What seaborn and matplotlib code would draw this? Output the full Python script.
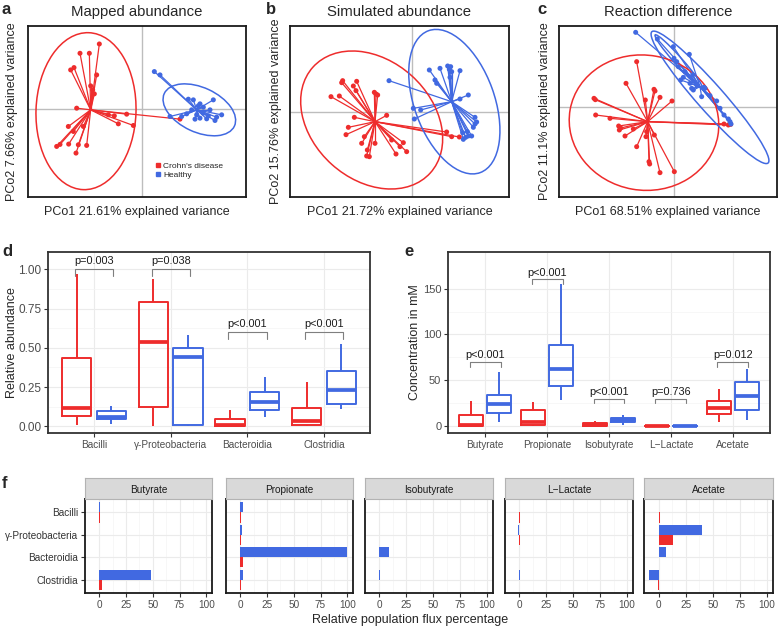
import numpy as np
import pandas as pd
import matplotlib
matplotlib.use("Agg")
import matplotlib.pyplot as plt
from matplotlib.patches import Ellipse
from matplotlib.lines import Line2D
from matplotlib.ticker import FixedLocator
import seaborn as sns

# ====================== DATA ======================
groups = ["Crohn's disease", "Healthy"]
group_colors = ["#EE2C2C", "#4169E1"]

# ---- panel a : Mapped abundance ----
a_title = "Mapped abundance"
a_xlabel = "PCo1 21.61% explained variance"
a_ylabel = "PCo2 7.66% explained variance"
a_crohn_pco1 = [-1.27, -1.85, -1.57, -2.13, -2.03, -1.35, -1.53, -1.42, -1.47, -1.95, -0.45, -0.82, -0.70,
                -0.25, 1.15, -2.20, -2.05, -2.55, -2.45, -2.19, -1.90, -1.65, -1.97, -1.75, -1.00]
a_crohn_pco2 = [1.94, 1.66, 1.66, 1.16, 1.23, 1.01, 0.68, 0.44, 0.56, 0.01, -0.17, -0.22, -0.46,
                -0.51, -0.32, -0.54, -0.69, -1.14, -1.08, -1.07, -1.09, -1.11, -1.34, -0.54, -0.19]
a_crohn_centroid = [-1.53, -0.04]
a_healthy_pco1 = [0.38, 0.55, 0.85, 1.40, 1.55, 1.75, 2.15, 1.50, 1.65, 1.85, 2.00, 2.25, 2.40, 2.20,
                  1.95, 1.75, 1.60, 1.35, 2.05, 1.85, 1.70, 1.20]
a_healthy_pco2 = [1.11, 1.01, -0.24, 0.28, 0.26, 0.14, 0.26, -0.04, -0.19, -0.14, -0.22, -0.26, -0.19, -0.36,
                  -0.31, -0.29, -0.32, -0.16, -0.04, 0.04, 0.08, -0.24]
a_healthy_centroid = [1.65, -0.04]
# ellipse: group index, centre x, centre y, width, height, angle
a_ellipses = [(0, -1.67, -0.08, 3.00, 4.72, -2), (1, 1.73, -0.04, 2.32, 1.34, -25)]

# ---- panel b : Simulated abundance ----
b_title = "Simulated abundance"
b_xlabel = "PCo1 21.72% explained variance"
b_ylabel = "PCo2 15.76% explained variance"
b_crohn_pco1 = [-2.09, -2.12, -1.67, -1.77, -1.69, -2.44, -2.19, -1.14, -1.09, -1.04, -1.74, -1.92, -1.99,
                -0.77, -1.12, -1.44, -1.52, -1.35, -1.37, -1.29, -0.49, -0.17, -0.27, -0.37, 1.03, 1.18,
                1.41, -0.62]
b_crohn_pco2 = [0.95, 0.89, 0.93, 0.79, 0.65, 0.47, 0.49, 0.60, 0.55, 0.52, -0.15, -0.45, -0.67,
                -0.09, -0.93, -0.73, -0.93, -1.13, -1.31, -1.33, -1.25, -1.18, -0.91, -1.03, -0.59, -0.73,
                -0.74, -0.83]
b_crohn_centroid = [-1.12, -0.28]
b_healthy_pco1 = [-0.70, 0.51, 0.83, 1.06, 1.15, 1.11, 1.18, 1.43, 0.68, 0.73, 1.13, 1.68, 1.43, 0.03,
                  0.25, 0.06, 1.88, 1.93, 1.83, 1.88, 1.53, 1.60, 1.68, 1.78, 1.51, 1.65]
b_healthy_pco2 = [0.95, 1.27, 1.32, 1.39, 1.37, 1.29, 1.22, 1.25, 0.97, 0.87, 1.05, 0.52, 0.40, 0.12,
                  0.07, -0.20, -0.15, -0.29, -0.45, -0.35, -0.81, -0.75, -0.71, -0.71, -0.61, -0.58]
b_healthy_centroid = [1.18, 0.32]
b_ellipses = [(0, -1.22, -0.23, 4.74, 3.58, -42), (1, 1.26, 0.32, 4.53, 2.40, -70)]

# ---- panel c : Reaction difference ----
c_title = "Reaction difference"
c_xlabel = "PCo1 68.51% explained variance"
c_ylabel = "PCo2 11.1% explained variance"
c_crohn_pco1 = [-1.13, -1.45, -0.61, -0.58, -0.87, -0.43, -0.07, -2.41, -2.37, -2.36, -1.93, -1.67, -1.65,
                -1.61, -1.48, -1.23, -1.13, -0.85, -0.60, -0.76, -0.74, -0.43, 0.00, 1.49, 1.62, 1.69, -0.83]
c_crohn_pco2 = [1.35, 0.70, 0.52, 0.47, 0.20, 0.28, 0.17, 0.25, 0.21, -0.25, -0.35, -0.58, -0.70,
                -0.64, -0.88, -0.67, -1.20, -0.90, -0.85, -1.65, -1.72, -1.98, -1.95, -0.52, -0.55, -0.53, -0.75]
c_crohn_centroid = [-0.80, -0.45]
c_healthy_pco1 = [-1.16, -0.03, 0.45, -0.01, 0.07, 0.12, 0.19, 0.27, 0.47, 0.67, 0.89, 0.82, 1.07, 1.27,
                  1.37, 1.49, 1.62, 1.67, 1.70, 0.52, 0.57, 0.92, 0.32, 0.55, -0.51]
c_healthy_pco2 = [2.23, 1.80, 1.57, 1.45, 1.35, 1.20, 0.80, 0.88, 0.70, 0.65, 0.58, 0.30, 0.33, 0.17,
                  -0.05, -0.25, -0.37, -0.45, -0.52, 0.55, 0.50, 0.55, 1.05, 0.95, 2.03]
c_healthy_centroid = [0.77, 0.60]
c_ellipses = [(0, -0.91, -0.48, 4.50, 4.05, -10), (1, 1.07, 0.28, 5.26, 0.80, -48.5),
              (1, 0.13, 1.36, 2.12, 0.24, -48.4)]

# ---- panel d : relative abundance boxplots (min, q1, median, q3, max) ----
d_categories = ["Bacilli", "γ-Proteobacteria", "Bacteroidia", "Clostridia"]
d_crohn_stats = [[0.010, 0.068, 0.116, 0.433, 0.970],
                 [0.000, 0.123, 0.535, 0.789, 0.940],
                 [0.000, 0.002, 0.010, 0.044, 0.106],
                 [0.000, 0.006, 0.036, 0.116, 0.280]]
d_healthy_stats = [[0.015, 0.049, 0.060, 0.095, 0.127],
                   [0.000, 0.008, 0.444, 0.497, 0.580],
                   [0.061, 0.106, 0.154, 0.220, 0.313],
                   [0.110, 0.144, 0.233, 0.355, 0.524]]
d_pvalues = ["p=0.003", "p=0.038", "p<0.001", "p<0.001"]
d_bracket_y = [1.0, 1.0, 0.603, 0.603]
d_ylabel = "Relative abundance"

# ---- panel e : SCFA concentration boxplots (min, q1, median, q3, max) ----
e_categories = ["Butyrate", "Propionate", "Isobutyrate", "L\u2212Lactate", "Acetate"]
e_crohn_stats = [[0.0, 0.3, 1.5, 12.0, 27.9],
                 [0.0, 0.7, 4.3, 17.4, 26.0],
                 [0.0, 0.0, 0.7, 2.9, 5.4],
                 [0.0, 0.0, 0.2, 0.6, 1.0],
                 [4.7, 13.4, 19.9, 27.2, 40.6]]
e_healthy_stats = [[4.3, 14.5, 24.6, 33.7, 59.0],
                   [29.0, 43.5, 62.3, 88.8, 154.7],
                   [1.0, 4.3, 6.5, 9.0, 12.0],
                   [0.0, 0.0, 0.2, 0.6, 1.0],
                   [6.2, 17.4, 33.3, 48.2, 62.3]]
e_pvalues = ["p<0.001", "p<0.001", "p<0.001", "p=0.736", "p=0.012"]
e_bracket_y = [70, 160, 30, 30, 70]
e_ylabel = "Concentration in mM"

# ---- panel f : relative population flux percentage ----
f_metabolites = ["Butyrate", "Propionate", "Isobutyrate", "L\u2212Lactate", "Acetate"]
f_taxa = ["Bacilli", "γ-Proteobacteria", "Bacteroidia", "Clostridia"]
f_butyrate_healthy = [0.4, 0.0, 0.0, 48.0]
f_butyrate_crohn = [0.3, 0.0, 0.0, 2.5]
f_propionate_healthy = [2.2, 1.6, 100.0, 2.2]
f_propionate_crohn = [0.5, 0.3, 2.5, 0.5]
f_isobutyrate_healthy = [0.0, 0.0, 8.6, 0.5]
f_isobutyrate_crohn = [0.0, 0.0, 0.0, 0.0]
f_lactate_healthy = [0.0, -1.5, 0.0, 0.5]
f_lactate_crohn = [0.3, 0.6, 0.0, 0.0]
f_acetate_healthy = [0.8, 39.9, 6.5, -8.4]
f_acetate_crohn = [1.2, 13.1, 0.0, -0.5]
f_xlabel = "Relative population flux percentage"

# ====================== STYLE ======================
sns.set_theme(style="white")
plt.rcParams["font.family"] = ["Liberation Sans", "DejaVu Sans"]
palette = dict(zip(groups, group_colors))
W, H = 780, 628
fig = plt.figure(figsize=(W / 100, H / 100), dpi=100)


def add_ax(x0, y0, x1, y1):
    return fig.add_axes([x0 / W, 1 - y1 / H, (x1 - x0) / W, (y1 - y0) / H])


def ftext(x, y, s, **kw):
    return fig.text(x / W, 1 - y / H, s, **kw)


def frame(ax, color="#1A1A1A", lw=1.3):
    for sp in ax.spines.values():
        sp.set_visible(True)
        sp.set_color(color)
        sp.set_linewidth(lw)


# ====================== PANELS a-c ======================
def pcoa_panel(box, title, xl, yl, cx, cy, cc, hx, hy, hc, ells, xlim, ylim, ylab_x):
    x0, y0, x1, y1 = box
    ax = add_ax(*box)
    ax.axhline(0, color="#BDBDBD", lw=1.0, zorder=0)
    ax.axvline(0, color="#BDBDBD", lw=1.0, zorder=0)
    for xs, ys, c, col in [(cx, cy, cc, group_colors[0]), (hx, hy, hc, group_colors[1])]:
        for x, y in zip(xs, ys):
            ax.plot([c[0], x], [c[1], y], color=col, lw=0.9, zorder=2)
    df = pd.DataFrame({"PCo1": list(cx) + list(hx), "PCo2": list(cy) + list(hy),
                       "group": [groups[0]] * len(cx) + [groups[1]] * len(hx)})
    sns.scatterplot(data=df, x="PCo1", y="PCo2", hue="group", palette=palette, s=13,
                    linewidth=0, legend=False, ax=ax, zorder=3)
    for g, ex, ey, w, h, ang in ells:
        ax.add_patch(Ellipse((ex, ey), w, h, angle=ang, fill=False,
                             edgecolor=group_colors[g], lw=1.1, zorder=2))
    ax.set_xlim(xlim)
    ax.set_ylim(ylim)
    ax.set_xticks([])
    ax.set_yticks([])
    ax.set_xlabel("")
    ax.set_ylabel("")
    frame(ax)
    ftext((x0 + x1) / 2, 12, title, ha="center", va="center", fontsize=10.7)
    ftext((x0 + x1) / 2, 212, xl, ha="center", va="center", fontsize=9)
    ftext(ylab_x, (y0 + y1) / 2, yl, ha="center", va="center", rotation=90, fontsize=9)
    return ax


ax_a = pcoa_panel((28, 26, 246, 197), a_title, a_xlabel, a_ylabel,
                  a_crohn_pco1, a_crohn_pco2, a_crohn_centroid,
                  a_healthy_pco1, a_healthy_pco2, a_healthy_centroid,
                  a_ellipses, (-3.41, 3.13), (-2.66, 2.48), 12)
handles = [Line2D([], [], marker="s", ls="", color=c, markersize=3.5) for c in group_colors]
ax_a.legend(handles, groups, loc="center left", bbox_to_anchor=(0.56, 0.155), frameon=False,
            fontsize=6, handletextpad=0.1, labelspacing=0.05, borderpad=0, handlelength=1.0)

pcoa_panel((290, 26, 509, 197), b_title, b_xlabel, b_ylabel,
           b_crohn_pco1, b_crohn_pco2, b_crohn_centroid,
           b_healthy_pco1, b_healthy_pco2, b_healthy_centroid,
           b_ellipses, (-3.67, 2.90), (-2.54, 2.59), 276)

pcoa_panel((559, 26, 777, 197), c_title, c_xlabel, c_ylabel,
           c_crohn_pco1, c_crohn_pco2, c_crohn_centroid,
           c_healthy_pco1, c_healthy_pco2, c_healthy_centroid,
           c_ellipses, (-3.46, 3.08), (-2.71, 2.42), 545)

# ====================== PANELS d-e ======================
def long_box(cats, crohn, healthy):
    rows = []
    for cat, cs, hs in zip(cats, crohn, healthy):
        for v in cs:
            rows.append((cat, groups[0], v))
        for v in hs:
            rows.append((cat, groups[1], v))
    return pd.DataFrame(rows, columns=["cat", "group", "value"])


def box_panel(box, cats, crohn, healthy, pvals, by, drop, toff, yticks, ylabels, ylim, ylab, ylab_x,
              ytick_fs):
    x0, y0, x1, y1 = box
    ax = add_ax(*box)
    df = long_box(cats, crohn, healthy)
    sns.boxplot(data=df, x="cat", y="value", hue="group", hue_order=groups, palette=palette,
                order=cats, fill=False, whis=(0, 100), showfliers=False, showcaps=False,
                width=0.9, gap=0.15, linewidth=1.4, medianprops={"linewidth": 2.7},
                saturation=1, legend=False, ax=ax)
    ax.set_xlim(-0.6, len(cats) - 0.4)
    ax.set_ylim(ylim)
    ax.yaxis.set_major_locator(FixedLocator(yticks))
    ax.set_yticklabels(ylabels)
    minor = [(a + b) / 2 for a, b in zip(yticks[:-1], yticks[1:])]
    ax.yaxis.set_minor_locator(FixedLocator(minor))
    ax.set_axisbelow(True)
    ax.grid(True, which="major", color="#EBEBEB", lw=0.8)
    ax.grid(True, which="minor", axis="y", color="#F4F4F4", lw=0.5)
    ax.tick_params(axis="both", which="major", length=2.8, width=0.8, color="#333333",
                   labelcolor="#4D4D4D", pad=2, bottom=True, left=True)
    ax.tick_params(axis="y", labelsize=ytick_fs)
    ax.tick_params(axis="x", labelsize=7.2)
    ax.tick_params(which="minor", length=0)
    ax.set_xlabel("")
    ax.set_ylabel("")
    frame(ax, color="#333333", lw=1.3)
    for i, (p, y) in enumerate(zip(pvals, by)):
        ax.plot([i - 0.25, i - 0.25, i + 0.25, i + 0.25], [y - drop, y, y, y - drop],
                color="#7F7F7F", lw=0.8)
        ax.text(i, y + toff, p, ha="center", va="center", fontsize=7.8, color="#1A1A1A")
    ftext(ylab_x, (y0 + y1) / 2, ylab, ha="center", va="center", rotation=90, fontsize=9)
    return ax


box_panel((48, 252, 370, 433), d_categories, d_crohn_stats, d_healthy_stats, d_pvalues,
          d_bracket_y, 0.045, 0.05, [0, 0.25, 0.5, 0.75, 1.0],
          ["0.00", "0.25", "0.50", "0.75", "1.00"], (-0.043, 1.11), d_ylabel, 12, 8.5)
box_panel((448, 252, 770, 433), e_categories, e_crohn_stats, e_healthy_stats, e_pvalues,
          e_bracket_y, 5, 7.3, [0, 50, 100, 150], ["0", "50", "100", "150"], (-7.5, 190),
          e_ylabel, 415, 8)

# ====================== PANEL f ======================
f_healthy = [f_butyrate_healthy, f_propionate_healthy, f_isobutyrate_healthy, f_lactate_healthy,
             f_acetate_healthy]
f_crohn = [f_butyrate_crohn, f_propionate_crohn, f_isobutyrate_crohn, f_lactate_crohn, f_acetate_crohn]
facet_x = [(85, 212), (226, 353), (365, 493), (505, 633), (644, 773)]
for k, (met, hv, cv) in enumerate(zip(f_metabolites, f_healthy, f_crohn)):
    fx0, fx1 = facet_x[k]
    ax = add_ax(fx0, 499, fx1, 593)
    rows = [(t, groups[1], v) for t, v in zip(f_taxa, hv)] + [(t, groups[0], v) for t, v in zip(f_taxa, cv)]
    df = pd.DataFrame(rows, columns=["taxon", "group", "flux"])
    sns.barplot(data=df, x="flux", y="taxon", hue="group", order=f_taxa,
                hue_order=[groups[1], groups[0]], palette=palette, orient="h", width=0.9,
                errorbar=None, legend=False, linewidth=0, saturation=1, ax=ax)
    ax.set_xlim(-13.4, 105.4)
    ax.set_ylim(3.6, -0.6)
    ax.xaxis.set_major_locator(FixedLocator([0, 25, 50, 75, 100]))
    ax.xaxis.set_minor_locator(FixedLocator([12.5, 37.5, 62.5, 87.5]))
    ax.set_axisbelow(True)
    ax.grid(True, which="major", color="#EBEBEB", lw=0.8)
    ax.grid(True, which="minor", axis="x", color="#F4F4F4", lw=0.5)
    ax.tick_params(axis="x", which="major", length=2.8, width=0.8, color="#333333",
                   labelcolor="#4D4D4D", labelsize=7.2, pad=2, bottom=True)
    ax.tick_params(which="minor", length=0)
    if k == 0:
        ax.tick_params(axis="y", length=2.8, width=0.8, color="#333333", labelcolor="#333333",
                       labelsize=7.2, pad=2, left=True)
    else:
        ax.tick_params(axis="y", left=False, labelleft=False)
    ax.set_xlabel("")
    ax.set_ylabel("")
    frame(ax, color="#1A1A1A", lw=1.3)
    sax = add_ax(fx0, 478, fx1, 499)
    sax.set_facecolor("#D9D9D9")
    sax.set_xticks([])
    sax.set_yticks([])
    frame(sax, color="#B3B3B3", lw=0.8)
    sax.text(0.5, 0.45, met, ha="center", va="center", fontsize=7.2, color="#1A1A1A",
             transform=sax.transAxes)

ftext(410, 620, f_xlabel, ha="center", va="center", fontsize=9)

# ====================== panel letters ======================
for lab, x, y in [("a", 6, 10), ("b", 271, 10), ("c", 542, 10), ("d", 7, 251), ("e", 409, 252),
                  ("f", 5, 483)]:
    ftext(x, y, lab, ha="center", va="center", fontsize=12, fontweight="bold")

fig.savefig("out.png", dpi=100)
